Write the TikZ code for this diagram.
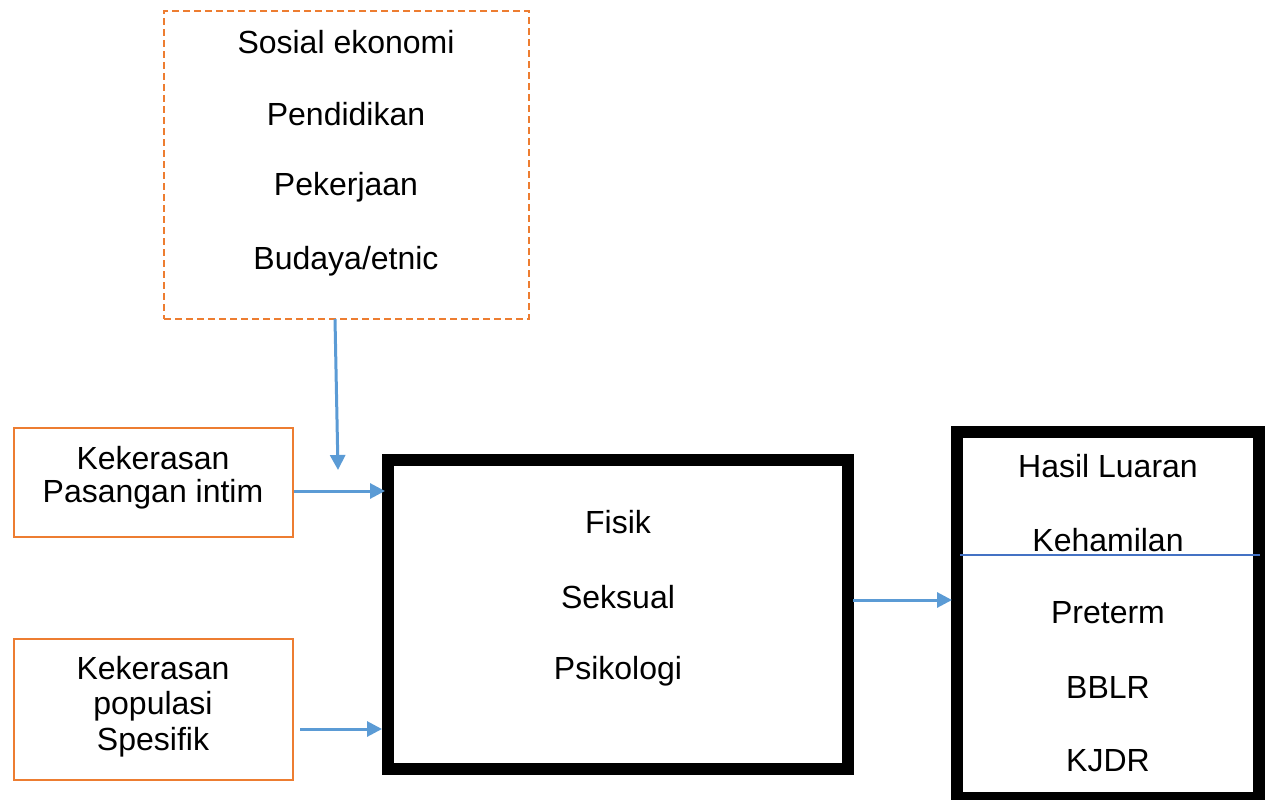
\documentclass[tikz,border=0pt]{standalone}
\usepackage{fontspec}
\setmainfont{Liberation Sans}
\usetikzlibrary{arrows.meta}
\definecolor{orng}{HTML}{ED7D31}
\definecolor{lblue}{HTML}{5B9BD5}
\definecolor{dblue}{HTML}{4472C4}
\begin{document}
\begin{tikzpicture}[x=1pt,y=-1pt,
  txt/.style={font=\fontsize{32}{38}\selectfont, inner sep=0pt, anchor=center},
  obox/.style={draw=orng, line width=2pt, anchor=north west, outer sep=0pt},
  dbox/.style={draw=orng, line width=2pt, dash pattern=on 7pt off 4pt, anchor=north west, outer sep=0pt},
  kbox/.style={draw=black, line width=12pt, anchor=north west, outer sep=0pt},
  arr/.style={draw=lblue, line width=3pt, -{Triangle[length=15pt,width=15pt]}}]
\useasboundingbox (0,0) rectangle (1269,800);
% dashed socio box
\node[dbox, minimum width=365pt, minimum height=308pt] (soc) at (164,11) {};
\node[txt] (t1) at (346,42) {Sosial ekonomi};
\node[txt] (t2) at (346,114) {Pendidikan};
\node[txt] (t3) at (346,187) {Pekerjaan};
\node[txt] (t4) at (346,261) {Budaya/etnic};
% orange boxes
\node[obox, minimum width=279pt, minimum height=109pt] (ipv) at (14,428) {};
\node[txt] (k1) at (153,458) {Kekerasan};
\node[txt] (k2) at (153,494) {Pasangan intim};
\node[obox, minimum width=279pt, minimum height=141pt] (pop) at (14,639) {};
\node[txt] (p1) at (153,668) {Kekerasan};
\node[txt] (p2) at (153,706) {populasi};
\node[txt] (p3) at (153,742) {Spesifik};
% central box
\node[kbox, minimum width=460pt, minimum height=309pt] (mid) at (388,460) {};
\node[txt] (m1) at (618,522) {Fisik};
\node[txt] (m2) at (618,597) {Seksual};
\node[txt] (m3) at (618,671) {Psikologi};
% right box
\node[kbox, minimum width=302pt, minimum height=366pt] (res) at (957,432) {};
\node[txt] (r1) at (1108,466) {Hasil Luaran};
\node[txt] (r2) at (1108,540) {Kehamilan};
\node[txt] (r3) at (1108,613) {Preterm};
\node[txt] (r4) at (1108,687) {BBLR};
\node[txt] (r5) at (1108,761) {KJDR};
\coordinate (sepL) at (960,555);
\coordinate (sepR) at (1260,555);
\draw[dblue, line width=1.5pt] (sepL) -- (sepR);
% arrows
\coordinate (a0s) at (335,319);
\coordinate (a0e) at (338,470);
\draw[arr] (a0s) -- (a0e);
\coordinate (a1s) at (294,491);
\coordinate (a1e) at (385,491);
\draw[arr] (a1s) -- (a1e);
\coordinate (a2s) at (300,729);
\coordinate (a2e) at (382,729);
\draw[arr] (a2s) -- (a2e);
\coordinate (a3s) at (853,600);
\coordinate (a3e) at (952,600);
\draw[arr] (a3s) -- (a3e);
\end{tikzpicture}
\end{document}
